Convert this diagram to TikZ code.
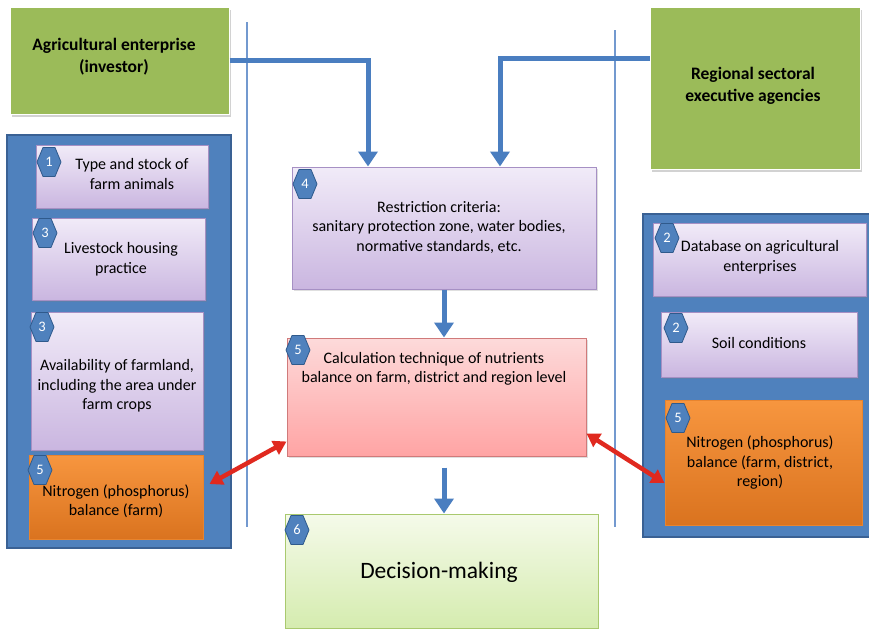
\documentclass[tikz,border=0pt]{standalone}
\usepackage{fontspec}
\setmainfont{Carlito}
\usetikzlibrary{arrows.meta,shadows}

\definecolor{panelblue}{HTML}{4F81BD}
\definecolor{panelline}{HTML}{3A6194}
\definecolor{flowblue}{HTML}{4A7EC0}
\definecolor{thinblue}{HTML}{7399CF}
\definecolor{leafgreen}{HTML}{9BBB59}
\definecolor{lilactop}{HTML}{F1EBF8}
\definecolor{lilacbot}{HTML}{CAB6E0}
\definecolor{lilacline}{HTML}{A690C4}
\definecolor{orangetop}{HTML}{F7963F}
\definecolor{orangebot}{HTML}{DA731F}
\definecolor{orangeline}{HTML}{E8842E}
\definecolor{pinktop}{HTML}{FDDADA}
\definecolor{pinkbot}{HTML}{FFA4A4}
\definecolor{pinkline}{HTML}{D07A7A}
\definecolor{limetop}{HTML}{F5FAEA}
\definecolor{limebot}{HTML}{D5ECAF}
\definecolor{limeline}{HTML}{A9C96E}
\definecolor{arrowred}{HTML}{E0291F}
\definecolor{badgeline}{HTML}{2F5A8C}

\tikzset{
  panel/.style={draw=panelline, line width=2pt, fill=panelblue, inner sep=0pt},
  lilacbox/.style={draw=lilacline, line width=1pt, top color=lilactop, bottom color=lilacbot,
    inner sep=0pt, drop shadow={opacity=0.25, shadow xshift=1.5pt, shadow yshift=-1.5pt}},
  orangebox/.style={draw=orangeline, line width=1pt, top color=orangetop, bottom color=orangebot, inner sep=0pt},
  pinkbox/.style={draw=pinkline, line width=1pt, top color=pinktop, bottom color=pinkbot, inner sep=0pt,
    drop shadow={opacity=0.25, shadow xshift=1.5pt, shadow yshift=-1.5pt}},
  limebox/.style={draw=limeline, line width=1pt, top color=limetop, bottom color=limebot, inner sep=0pt},
  actorbox/.style={fill=leafgreen, draw=white, line width=1pt, inner sep=0pt,
    drop shadow={opacity=0.35, shadow xshift=2pt, shadow yshift=-3pt}},
  boxtext/.style={align=center, font=\fontsize{16}{19.5}\selectfont, text=black, inner sep=0pt},
  actortext/.style={align=center, font=\fontsize{17.5}{22}\selectfont\bfseries, text=black, inner sep=0pt},
  badgetext/.style={font=\fontsize{14.5}{14.5}\selectfont, text=white, inner sep=0pt},
  badge/.style={fill=panelblue, draw=badgeline, line width=0.8pt, line join=round},
  flow/.style={draw=flowblue, line width=5pt, -{Triangle[width=19pt,length=15pt]}},
  swap/.style={draw=arrowred, line width=4.5pt,
    {Triangle[width=15pt,length=13pt]}-{Triangle[width=15pt,length=13pt]}},
  divider/.style={draw=thinblue, line width=1.3pt},
}

% numbered hexagon badge: name, centre (x,y without parentheses), number
\newcommand\hexbadge[3]{%
  \draw[badge] ([shift={(-12,0)}]#2) -- ++(6,-14.5) -- ++(12,0) -- ++(6,14.5)
    -- ++(-6,14.5) -- ++(-12,0) -- cycle;
  \node[badgetext] (#1) at (#2) {#3};}

\begin{document}
\begin{tikzpicture}[x=1pt,y=-1pt]
\clip (0,0) rectangle (869,629);
\fill[white] (0,0) rectangle (869,629);

% thin separators
\coordinate (sepLa) at (247,22);
\coordinate (sepLb) at (247,527);
\coordinate (sepRa) at (615,30);
\coordinate (sepRb) at (615,527);
\draw[divider] (sepLa) -- (sepLb);
\draw[divider] (sepRa) -- (sepRb);

% actors
\node[actorbox, minimum width=219pt, minimum height=107pt] (agri) at (119.5,60.5) {};
\node[actortext] (agri-t) at (114,57) {Agricultural enterprise\\(investor)};
\node[actorbox, minimum width=210pt, minimum height=162pt] (regional) at (755,88) {};
\node[actortext] (regional-t) at (753,86) {Regional sectoral\\executive agencies};

% left panel
\node[panel, minimum width=224pt, minimum height=413pt] (lpanel) at (119,341.5) {};
\node[lilacbox, minimum width=172pt, minimum height=63pt] (animals) at (122,176.5) {};
\node[boxtext] (animals-t) at (132,174) {Type and stock of\\farm animals};
\hexbadge{animals-n}{49,162}{1}
\node[lilacbox, minimum width=173pt, minimum height=82pt] (housing) at (118.5,259) {};
\node[boxtext] (housing-t) at (121,259) {Livestock housing\\practice};
\hexbadge{housing-n}{45,233}{3}
\node[lilacbox, minimum width=172pt, minimum height=138pt] (land) at (117,381) {};
\node[boxtext] (land-t) at (117,386) {Availability of farmland,\\including the area under\\farm crops};
\hexbadge{land-n}{42,327}{3}
\node[orangebox, minimum width=174pt, minimum height=84pt] (nfarm) at (116,497) {};
\node[boxtext] (nfarm-t) at (116,501) {Nitrogen (phosphorus)\\balance (farm)};
\hexbadge{nfarm-n}{40,470}{5}

% right panel
\node[panel, minimum width=237pt, minimum height=323pt] (rpanel) at (761.5,375.5) {};
\node[lilacbox, minimum width=213pt, minimum height=73pt] (database) at (759.5,259.5) {};
\node[boxtext] (database-t) at (760,257) {Database on agricultural\\enterprises};
\hexbadge{database-n}{667,238}{2}
\node[lilacbox, minimum width=196pt, minimum height=65pt] (soil) at (759,344.5) {};
\node[boxtext] (soil-t) at (759,343) {Soil conditions};
\hexbadge{soil-n}{676,328}{2}
\node[orangebox, minimum width=197pt, minimum height=125pt] (nregion) at (763.5,462.5) {};
\node[boxtext] (nregion-t) at (760,463) {Nitrogen (phosphorus)\\balance (farm, district,\\region)};
\hexbadge{nregion-n}{678,418}{5}

% central column
\node[lilacbox, minimum width=304pt, minimum height=122pt] (restr) at (444,228) {};
\node[boxtext] (restr-t) at (439,227) {Restriction criteria:\\sanitary protection zone, water bodies,\\normative standards, etc.};
\hexbadge{restr-n}{305,184}{4}
\node[pinkbox, minimum width=299pt, minimum height=118pt] (calc) at (436.5,397) {};
\node[boxtext] (calc-t) at (434,369) {Calculation technique of nutrients\\balance on farm, district and region level};
\hexbadge{calc-n}{298,350}{5}
\node[limebox, minimum width=313pt, minimum height=114pt] (dec) at (441.5,571) {};
\node[boxtext, font=\fontsize{23.5}{28}\selectfont] (dec-t) at (439,572) {Decision-making};
\hexbadge{dec-n}{297,530}{6}

% blue flows
\draw[flow] (agri.east) -| ([xshift=-76pt]restr.north);
\draw[flow] ([yshift=30pt]regional.west) -| ([xshift=56pt]restr.north);
\draw[flow] (restr.south) -- (restr.south |- calc.north);
\coordinate (calcOut) at ([yshift=-11pt]calc.south);
\draw[flow] (calcOut -| restr.south) -- (restr.south |- dec.north);

% red exchanges
\draw[swap] ([xshift=6pt,yshift=13pt]nfarm.east) -- ([yshift=15pt]calc.south west);
\draw[swap] ([yshift=23pt]calc.south east) -- ([yshift=-20.5pt]nregion.west);
\end{tikzpicture}
\end{document}
